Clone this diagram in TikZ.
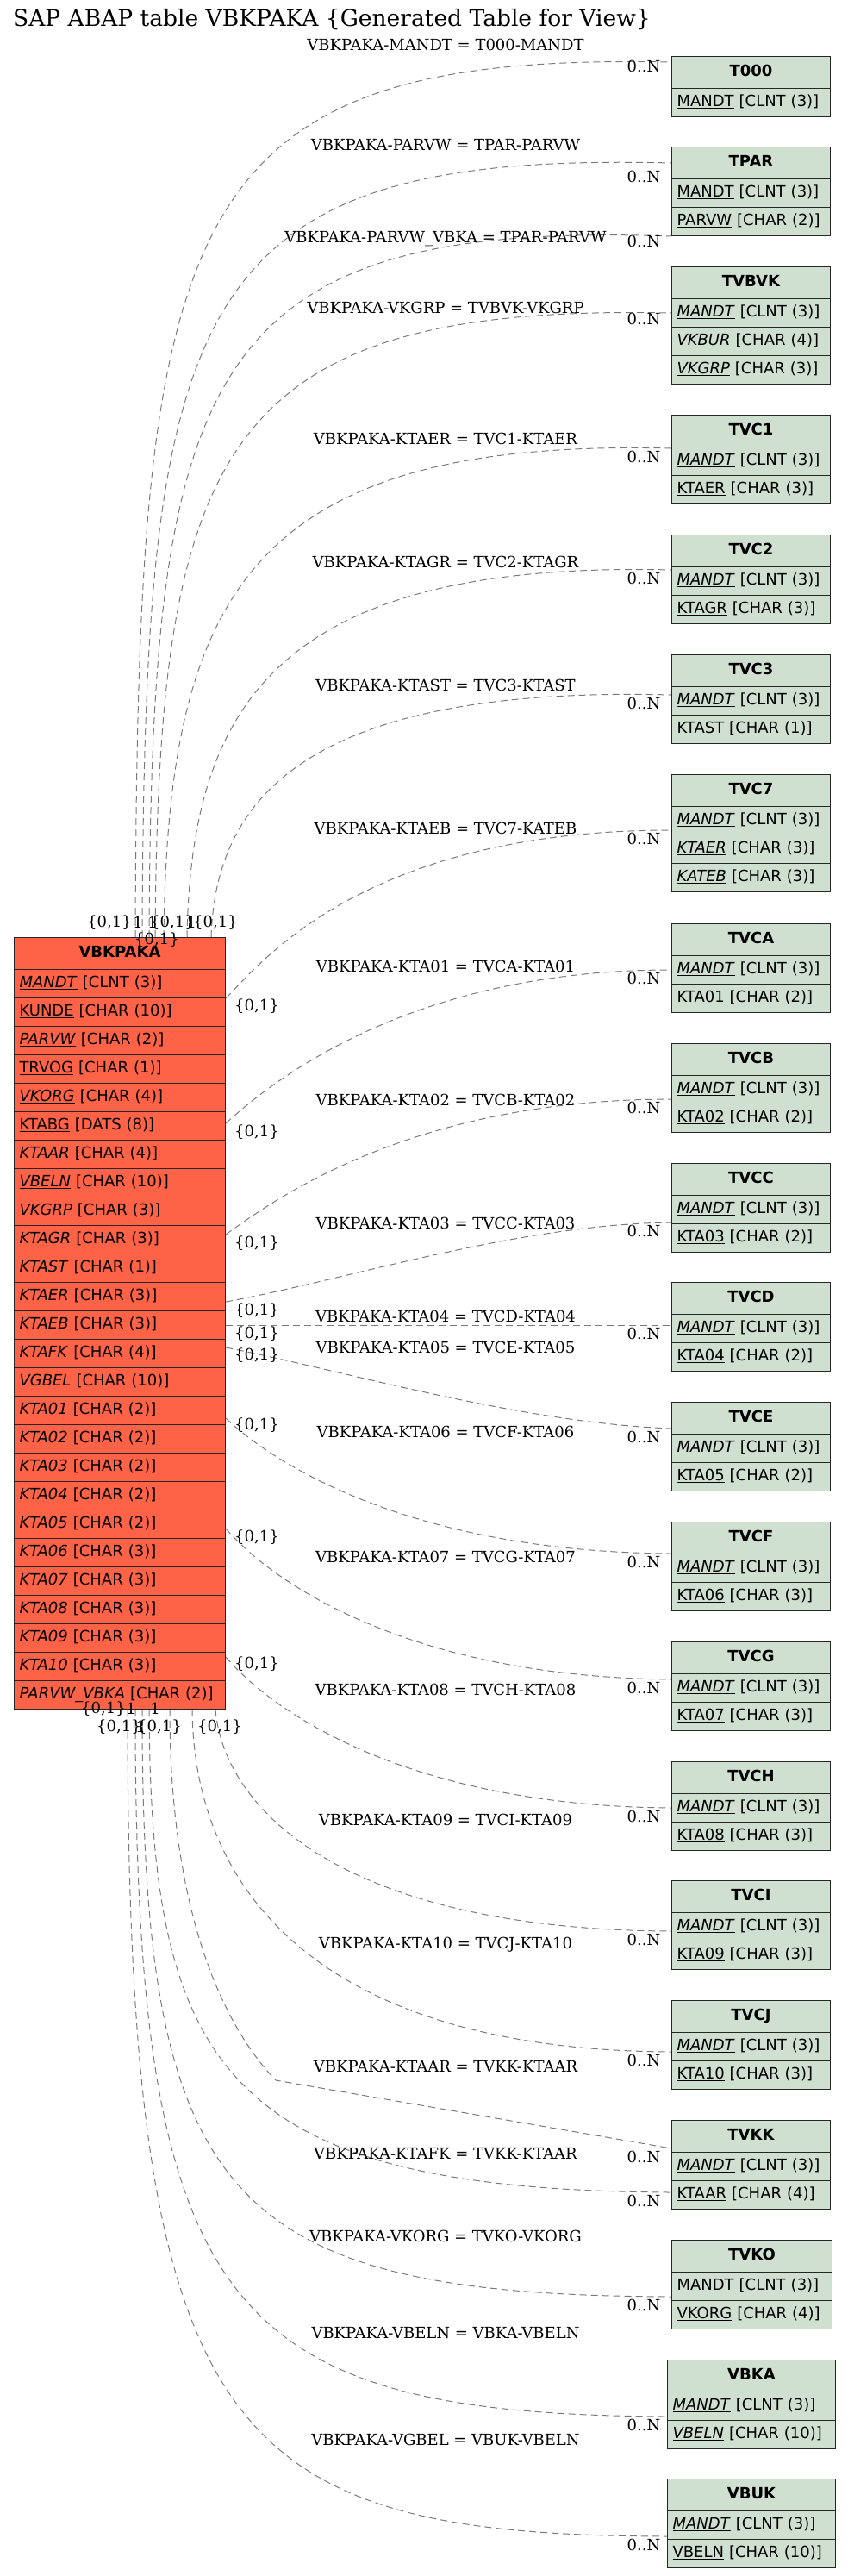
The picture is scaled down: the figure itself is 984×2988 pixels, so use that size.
\documentclass[tikz,border=0pt]{standalone}
\usepackage{fontspec}
\setmainfont{DejaVu Serif}
\setsansfont{DejaVu Sans}
\usepackage{tikz}
\usetikzlibrary{calc}
\definecolor{mainred}{RGB}{255,99,71}
\definecolor{chkgreen}{RGB}{208,224,208}
\definecolor{relgray}{gray}{0.48}
\newcommand{\kf}[1]{\underline{#1}}
\newcommand{\kif}[1]{\underline{\textit{#1}}}
% table: name, fill, x, y, width, text width, title, fields
\newcommand{\sapTable}[8]{%
  \node[tblhead, fill=#2, minimum width=#5] (#1-h) at (#3,#4) {#7};
  \foreach \rowtext [count=\i] in {#8} {
    \node[tblrow, fill=#2, text width=#6] (#1-\i) at (#3,{#4+37+(\i-1)*33}) {\rowtext};
  }%
}

\begin{document}
\begin{tikzpicture}[
  x=1pt, y=-1pt,
  tblhead/.style={
    draw=black!85, line width=1pt, anchor=north west,
    minimum height=37pt, inner sep=0pt,
    font=\sffamily\bfseries\fontsize{18}{20}\selectfont,
    text height=13pt, text depth=4pt
  },
  tblrow/.style={
    draw=black!85, line width=1pt, anchor=north west,
    minimum height=33pt, inner xsep=6pt, inner ysep=0pt, align=left,
    font=\sffamily\fontsize{18}{20}\selectfont,
    text height=13pt, text depth=4pt
  },
  rel/.style={draw=relgray, line width=1pt, dash pattern=on 8pt off 5pt},
  lbl/.style={font=\fontsize{18}{20}\selectfont, inner sep=0pt}
]
\useasboundingbox (0,0) rectangle (984,2988);
\node[anchor=west, inner sep=0pt, font=\fontsize{26.5}{30}\selectfont] (title) at (15,23)
  {SAP ABAP table VBKPAKA \{Generated Table for View\}};

% main table
\sapTable{vbkpaka}{mainred}{16}{1087}{245pt}{233pt}{VBKPAKA}{
  {\kif{MANDT} [CLNT (3)]},{\kf{KUNDE} [CHAR (10)]},{\kif{PARVW} [CHAR (2)]},
  {\kf{TRVOG} [CHAR (1)]},{\kif{VKORG} [CHAR (4)]},{\kf{KTABG} [DATS (8)]},
  {\kif{KTAAR} [CHAR (4)]},{\kif{VBELN} [CHAR (10)]},{\textit{VKGRP} [CHAR (3)]},
  {\textit{KTAGR} [CHAR (3)]},{\textit{KTAST} [CHAR (1)]},{\textit{KTAER} [CHAR (3)]},
  {\textit{KTAEB} [CHAR (3)]},{\textit{KTAFK} [CHAR (4)]},{\textit{VGBEL} [CHAR (10)]},
  {\textit{KTA01} [CHAR (2)]},{\textit{KTA02} [CHAR (2)]},{\textit{KTA03} [CHAR (2)]},
  {\textit{KTA04} [CHAR (2)]},{\textit{KTA05} [CHAR (2)]},{\textit{KTA06} [CHAR (3)]},
  {\textit{KTA07} [CHAR (3)]},{\textit{KTA08} [CHAR (3)]},{\textit{KTA09} [CHAR (3)]},
  {\textit{KTA10} [CHAR (3)]},{\textit{PARVW\_VBKA} [CHAR (2)]}}

% check tables
\sapTable{t000}{chkgreen}{779}{65}{184pt}{172pt}{T000}{{\kf{MANDT} [CLNT (3)]}}
\sapTable{tpar}{chkgreen}{779}{170}{184pt}{172pt}{TPAR}{{\kf{MANDT} [CLNT (3)]},{\kf{PARVW} [CHAR (2)]}}
\sapTable{tvbvk}{chkgreen}{779}{309}{184pt}{172pt}{TVBVK}{{\kif{MANDT} [CLNT (3)]},{\kif{VKBUR} [CHAR (4)]},{\kif{VKGRP} [CHAR (3)]}}
\sapTable{tvc1}{chkgreen}{779}{481}{184pt}{172pt}{TVC1}{{\kif{MANDT} [CLNT (3)]},{\kf{KTAER} [CHAR (3)]}}
\sapTable{tvc2}{chkgreen}{779}{620}{184pt}{172pt}{TVC2}{{\kif{MANDT} [CLNT (3)]},{\kf{KTAGR} [CHAR (3)]}}
\sapTable{tvc3}{chkgreen}{779}{759}{184pt}{172pt}{TVC3}{{\kif{MANDT} [CLNT (3)]},{\kf{KTAST} [CHAR (1)]}}
\sapTable{tvc7}{chkgreen}{779}{898}{184pt}{172pt}{TVC7}{{\kif{MANDT} [CLNT (3)]},{\kif{KTAER} [CHAR (3)]},{\kif{KATEB} [CHAR (3)]}}
\sapTable{tvca}{chkgreen}{779}{1071}{184pt}{172pt}{TVCA}{{\kif{MANDT} [CLNT (3)]},{\kf{KTA01} [CHAR (2)]}}
\sapTable{tvcb}{chkgreen}{779}{1210}{184pt}{172pt}{TVCB}{{\kif{MANDT} [CLNT (3)]},{\kf{KTA02} [CHAR (2)]}}
\sapTable{tvcc}{chkgreen}{779}{1349}{184pt}{172pt}{TVCC}{{\kif{MANDT} [CLNT (3)]},{\kf{KTA03} [CHAR (2)]}}
\sapTable{tvcd}{chkgreen}{779}{1487}{184pt}{172pt}{TVCD}{{\kif{MANDT} [CLNT (3)]},{\kf{KTA04} [CHAR (2)]}}
\sapTable{tvce}{chkgreen}{779}{1626}{184pt}{172pt}{TVCE}{{\kif{MANDT} [CLNT (3)]},{\kf{KTA05} [CHAR (2)]}}
\sapTable{tvcf}{chkgreen}{779}{1765}{184pt}{172pt}{TVCF}{{\kif{MANDT} [CLNT (3)]},{\kf{KTA06} [CHAR (3)]}}
\sapTable{tvcg}{chkgreen}{779}{1904}{184pt}{172pt}{TVCG}{{\kif{MANDT} [CLNT (3)]},{\kf{KTA07} [CHAR (3)]}}
\sapTable{tvch}{chkgreen}{779}{2043}{184pt}{172pt}{TVCH}{{\kif{MANDT} [CLNT (3)]},{\kf{KTA08} [CHAR (3)]}}
\sapTable{tvci}{chkgreen}{779}{2181}{184pt}{172pt}{TVCI}{{\kif{MANDT} [CLNT (3)]},{\kf{KTA09} [CHAR (3)]}}
\sapTable{tvcj}{chkgreen}{779}{2320}{184pt}{172pt}{TVCJ}{{\kif{MANDT} [CLNT (3)]},{\kf{KTA10} [CHAR (3)]}}
\sapTable{tvkk}{chkgreen}{779}{2459}{184pt}{172pt}{TVKK}{{\kif{MANDT} [CLNT (3)]},{\kf{KTAAR} [CHAR (4)]}}
\sapTable{tvko}{chkgreen}{779}{2598}{186pt}{174pt}{TVKO}{{\kf{MANDT} [CLNT (3)]},{\kf{VKORG} [CHAR (4)]}}
\sapTable{vbka}{chkgreen}{774}{2737}{195pt}{183pt}{VBKA}{{\kif{MANDT} [CLNT (3)]},{\kif{VBELN} [CHAR (10)]}}
\sapTable{vbuk}{chkgreen}{774}{2875}{195pt}{183pt}{VBUK}{{\kif{MANDT} [CLNT (3)]},{\kf{VBELN} [CHAR (10)]}}

% relations leaving the top
\draw[rel] ($(vbkpaka-h.north west)+(141,0)$) .. controls (160,250) and (200,60) .. ($(t000-h.north west)+(0,7)$);
\draw[rel] ($(vbkpaka-h.north west)+(149,0)$) .. controls (168,350) and (215,175) .. (tpar-h.west);
\draw[rel] ($(vbkpaka-h.north west)+(157,0)$) .. controls (176,430) and (235,255) .. (tpar-2.south west);
\draw[rel] ($(vbkpaka-h.north west)+(164,0)$) .. controls (184,520) and (255,352) .. (tvbvk-1.west);
\draw[rel] ($(vbkpaka-h.north west)+(174,0)$) .. controls (195,690) and (290,508) .. ($(tvc1-h.north west)+(0,39)$);
\draw[rel] ($(vbkpaka-h.north west)+(201,0)$) .. controls (222,820) and (320,650) .. ($(tvc2-h.north west)+(0,41)$);
\draw[rel] ($(vbkpaka-h.north west)+(229,0)$) .. controls (250,930) and (350,795) .. ($(tvc3-h.north west)+(0,47)$);
% relations leaving the right side
\draw[rel] (vbkpaka-1.south east) .. controls (300,1120) and (420,963) .. ($(tvc7-h.north west)+(0,65)$);
\draw[rel] ($(vbkpaka-h.north east)+(0,216)$) .. controls (320,1250) and (480,1125) .. (tvca-1.west);
\draw[rel] ($(vbkpaka-h.north east)+(0,345)$) .. controls (320,1390) and (480,1275) .. ($(tvcb-h.north west)+(0,65)$);
\draw[rel] ($(vbkpaka-h.north east)+(0,423)$) .. controls (400,1485) and (600,1420) .. ($(tvcc-h.north west)+(0,69)$);
\draw[rel] ($(vbkpaka-h.north east)+(0,450)$) -- ($(tvcd-h.north west)+(0,50)$);
\draw[rel] ($(vbkpaka-h.north east)+(0,476)$) .. controls (400,1590) and (600,1650) .. ($(tvce-h.north west)+(0,31)$);
\draw[rel] ($(vbkpaka-h.north east)+(0,558)$) .. controls (320,1700) and (480,1800) .. ($(tvcf-h.north west)+(0,37)$);
\draw[rel] ($(vbkpaka-h.north east)+(0,686)$) .. controls (320,1840) and (480,1945) .. ($(tvcg-h.north west)+(0,44)$);
\draw[rel] ($(vbkpaka-h.north east)+(0,835)$) .. controls (320,1990) and (480,2095) .. ($(tvch-h.north west)+(0,54)$);
% relations leaving the bottom
\coordinate (ktaarBend) at (320,2413);
\draw[rel] ($(vbkpaka-26.south west)+(234,0)$) .. controls (260,2100) and (400,2238) .. ($(tvci-h.north west)+(0,59)$);
\draw[rel] ($(vbkpaka-26.south west)+(207,0)$) .. controls (225,2200) and (380,2378) .. ($(tvcj-h.north west)+(0,60)$);
\draw[rel] ($(vbkpaka-26.south west)+(181,0)$) .. controls (197,2200) and (250,2340) .. (ktaarBend) -- ($(tvkk-h.north west)+(0,33)$);
\draw[rel] ($(vbkpaka-26.south west)+(157,0)$) .. controls (175,2400) and (260,2540) .. ($(tvkk-h.north west)+(0,84)$);
\draw[rel] ($(vbkpaka-26.south west)+(149,0)$) .. controls (165,2550) and (260,2662) .. ($(tvko-h.north west)+(0,66)$);
\draw[rel] ($(vbkpaka-26.south west)+(141,0)$) .. controls (157,2680) and (260,2800) .. ($(vbka-h.north west)+(0,66)$);
\draw[rel] ($(vbkpaka-26.south west)+(132,0)$) .. controls (148,2830) and (260,2940) .. ($(vbuk-h.north west)+(0,67)$);

% relation texts
\foreach \ly/\lt [count=\k] in {
  52/{VBKPAKA-MANDT = T000-MANDT}, 168/{VBKPAKA-PARVW = TPAR-PARVW},
  277/{VBKPAKA-PARVW\_VBKA = TPAR-PARVW}, 357/{VBKPAKA-VKGRP = TVBVK-VKGRP},
  509/{VBKPAKA-KTAER = TVC1-KTAER}, 652/{VBKPAKA-KTAGR = TVC2-KTAGR},
  795/{VBKPAKA-KTAST = TVC3-KTAST}, 961/{VBKPAKA-KTAEB = TVC7-KATEB},
  1121/{VBKPAKA-KTA01 = TVCA-KTA01}, 1276/{VBKPAKA-KTA02 = TVCB-KTA02},
  1419/{VBKPAKA-KTA03 = TVCC-KTA03}, 1527/{VBKPAKA-KTA04 = TVCD-KTA04},
  1563/{VBKPAKA-KTA05 = TVCE-KTA05}, 1661/{VBKPAKA-KTA06 = TVCF-KTA06},
  1806/{VBKPAKA-KTA07 = TVCG-KTA07}, 1960/{VBKPAKA-KTA08 = TVCH-KTA08},
  2111/{VBKPAKA-KTA09 = TVCI-KTA09}, 2256/{VBKPAKA-KTA10 = TVCJ-KTA10},
  2397/{VBKPAKA-KTAAR = TVKK-KTAAR}, 2498/{VBKPAKA-KTAFK = TVKK-KTAAR},
  2594/{VBKPAKA-VKORG = TVKO-VKORG}, 2706/{VBKPAKA-VBELN = VBKA-VBELN},
  2830/{VBKPAKA-VGBEL = VBUK-VBELN}}
  \node[lbl] (reltext\k) at (517,\ly) {\lt};

% cardinalities at the check tables
\foreach \ny [count=\k] in {77,205,280,370,530,671,816,973,1135,1285,1428,1547,1667,
  1812,1958,2107,2250,2390,2502,2553,2674,2813,2952}
  \node[lbl] (many\k) at (747,\ny) {0..N};

% cardinalities at VBKPAKA
\foreach \cx/\cy/\ct [count=\k] in {127/1070/{\{0,1\}}, 160/1070/1, 177/1070/1,
  200/1070/{\{0,1\}}, 222/1070/1, 250/1070/{\{0,1\}}, 182/1090/{\{0,1\}},
  298/1167/{\{0,1\}}, 298/1313/{\{0,1\}}, 298/1442/{\{0,1\}}, 298/1520/{\{0,1\}},
  298/1547/{\{0,1\}}, 298/1572/{\{0,1\}}, 298/1653/{\{0,1\}}, 298/1783/{\{0,1\}},
  298/1930/{\{0,1\}}, 120/1982/{\{0,1\}}, 152/1982/1, 180/1982/1,
  138/2003/{\{0,1\}}, 163/2003/1, 185/2003/{\{0,1\}}, 255/2003/{\{0,1\}}}
  \node[lbl] (one\k) at (\cx,\cy) {\ct};
\end{tikzpicture}
\end{document}
